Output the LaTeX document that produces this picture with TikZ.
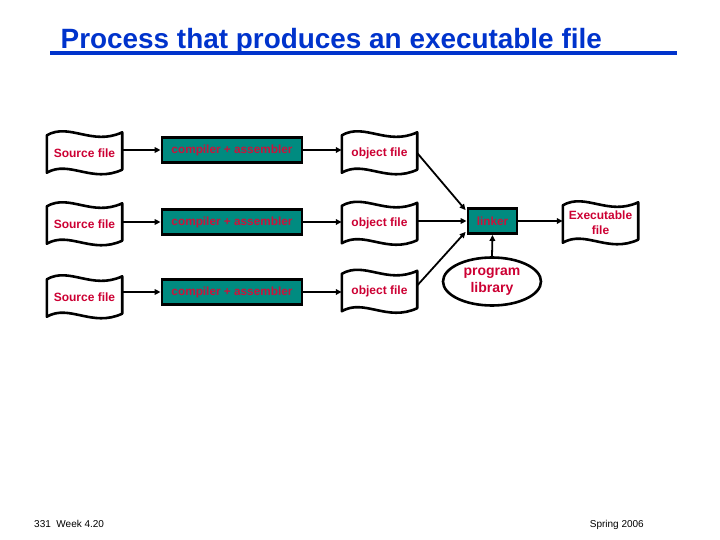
\documentclass[tikz,border=0pt]{standalone}
\usepackage{fontspec}
\setmainfont{Liberation Sans}
\usetikzlibrary{calc,arrows.meta,shapes.geometric}
\definecolor{tealbox}{RGB}{0,139,128}
\definecolor{lblred}{RGB}{204,0,51}
\definecolor{boxred}{RGB}{200,20,60}
\definecolor{ttlblue}{RGB}{0,51,204}
\newcommand\wavydoc[1]{%
  \draw[docline] ($(#1.north west)+(0,1)$)
    .. controls ($(#1.north west)!0.3!(#1.north east)+(0,-12)$) and ($(#1.north west)!0.6!(#1.north east)+(0,12)$) .. ($(#1.north east)+(0,-2)$)
    -- ($(#1.south east)+(0,-2)$)
    .. controls ($(#1.south west)!0.6!(#1.south east)+(0,12)$) and ($(#1.south west)!0.3!(#1.south east)+(0,-12)$) .. ($(#1.south west)+(0,1)$)
    -- cycle;}
\begin{document}
\begin{tikzpicture}[x=1pt,y=-1pt,
  docline/.style={draw=black,line width=2.6pt,line join=round},
  docnode/.style={minimum width=75pt,minimum height=37pt,inner sep=0pt,text=lblred,
    font=\fontsize{12}{15}\selectfont\bfseries,align=center},
  procbox/.style={draw=black,line width=2.8pt,fill=tealbox,text=boxred,
    font=\fontsize{11.8}{14}\selectfont\bfseries,inner sep=0pt,minimum height=25pt},
  conn/.style={line width=1.8pt,-{Triangle[length=6pt,width=5.5pt]}},
  libnode/.style={ellipse,draw=black,line width=2.6pt,minimum width=98pt,minimum height=48pt,
    inner sep=0pt,text=lblred,font=\fontsize{14}{17}\selectfont\bfseries,align=center},
  footer/.style={inner sep=0pt,font=\fontsize{10}{11}\selectfont},
]
\useasboundingbox (0,0) rectangle (720,540);

% title
\node[anchor=base west,inner sep=0pt,text=ttlblue,font=\fontsize{27.9}{30}\selectfont\bfseries] (title) at (60.5,48.3) {Process that produces an executable file};
\fill[ttlblue] (50,51.5) rectangle (677,55.5);

% source files
\node[docnode] (s1) at (84.5,153) {Source file};
\node[docnode] (s2) at (84.5,224) {Source file};
\node[docnode] (s3) at (84.5,297) {Source file};
\wavydoc{s1}\wavydoc{s2}\wavydoc{s3}

% compiler boxes
\node[procbox,minimum width=140pt] (c1) at (232,150) {compiler + assembler};
\node[procbox,minimum width=140pt] (c2) at (232,222) {compiler + assembler};
\node[procbox,minimum width=140pt] (c3) at (232,292) {compiler + assembler};

% object files
\node[docnode] (o1) at (379.5,153) {object file};
\node[docnode] (o2) at (379.5,223.5) {object file};
\node[docnode] (o3) at (379.5,291.5) {object file};
\wavydoc{o1}\wavydoc{o2}\wavydoc{o3}

% linker
\node[procbox,minimum width=49pt] (lk) at (492.5,221) {linker};

% executable
\node[docnode] (ex) at (600.5,223) {Executable\\file};
\wavydoc{ex}

% library
\node[libnode] (lib) at (492,281.5) {\raisebox{-2pt}{program}\\\raisebox{-2pt}{library}};

% connectors
\draw[conn] (s1.east |- c1.west) -- (c1.west);
\draw[conn] (s2.east |- c2.west) -- (c2.west);
\draw[conn] (s3.east |- c3.west) -- (c3.west);
\draw[conn] (c1.east) -- (c1.east -| o1.west);
\draw[conn] (c2.east) -- (c2.east -| o2.west);
\draw[conn] (c3.east) -- (c3.east -| o3.west);
\draw[conn] (o1.east) -- ($(lk.north west)+(-1,3)$);
\draw[conn] (o2.east |- lk.west) -- (lk.west);
\draw[conn] ($(o3.east)+(0,-6)$) -- ($(lk.south west)+(-1,-3)$);
\draw[conn] (lk.east) -- (lk.east -| ex.west);
\draw[conn] (lib.north) -- (lk.south);

% footers
\node[footer,anchor=base west] (f1) at (34,527.3) {331\ \ Week 4.20};
\node[footer,anchor=base east] (f2) at (644,527.3) {Spring 2006};
\end{tikzpicture}
\end{document}
